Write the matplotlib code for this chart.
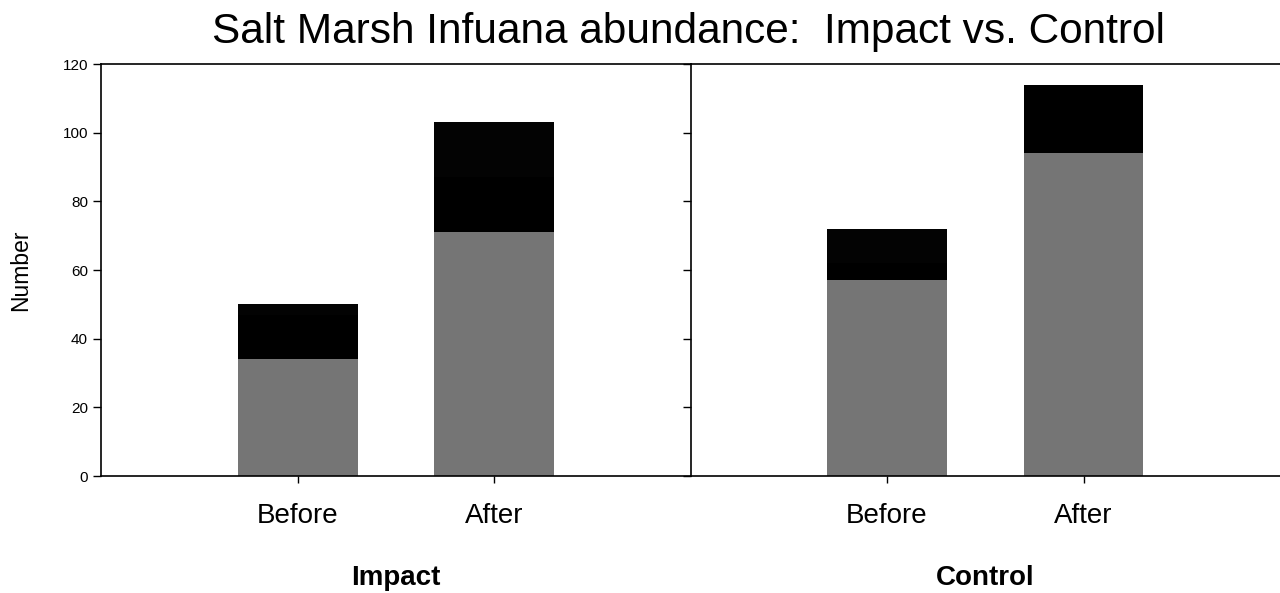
import matplotlib.pyplot as plt

plt.rcParams["font.family"] = ["Liberation Sans", "DejaVu Sans"]

# abundance per site, stacked in three layers
sites = ["Impact", "Control"]
periods = ["Before", "After"]
layer_bottom = {"Impact": [34, 71], "Control": [57, 94]}
layer_middle = {"Impact": [13, 16], "Control": [5, 20]}
layer_top = {"Impact": [3, 16], "Control": [10, 0]}
y_ticks = [0, 20, 40, 60, 80, 100, 120]

colors = ["#757575", "#000000", "#030303"]

fig = plt.figure(figsize=(12.8, 5.93), dpi=100)
fig.subplots_adjust(left=0.079, right=1.0, bottom=0.197, top=0.892, wspace=0)
axes = fig.subplots(1, 2, sharey=True)

positions = [1, 2]
for ax, site in zip(axes, sites):
    b = layer_bottom[site]
    m = layer_middle[site]
    t = layer_top[site]
    ax.bar(positions, b, width=0.61, color=colors[0], linewidth=0)
    ax.bar(positions, m, width=0.61, bottom=b, color=colors[1], linewidth=0)
    mb = [x + y for x, y in zip(b, m)]
    ax.bar(positions, t, width=0.61, bottom=mb, color=colors[2], linewidth=0)

    ax.set_xlim(0, 3)
    ax.set_ylim(0, 120)
    ax.set_xticks(positions)
    ax.set_xticklabels(periods, fontsize=20)
    ax.set_xlabel(site, fontsize=20, fontweight="bold", labelpad=26)
    ax.tick_params(axis="x", direction="out", length=5, width=1, pad=14)
    ax.tick_params(axis="y", direction="out", length=6, width=1, labelsize=11)
    ax.spines["right"].set_visible(False)
    for s in ["left", "top", "bottom"]:
        ax.spines[s].set_linewidth(1.2)
        ax.spines[s].set_color("black")

axes[0].set_yticks(y_ticks)
axes[0].set_ylabel("Number", fontsize=16.5, labelpad=22)
axes[1].tick_params(axis="y", labelleft=False)

fig.suptitle("Salt Marsh Infuana abundance:  Impact vs. Control",
             fontsize=30.5, x=0.538, y=0.98)

fig.savefig("out.png", dpi=100)
